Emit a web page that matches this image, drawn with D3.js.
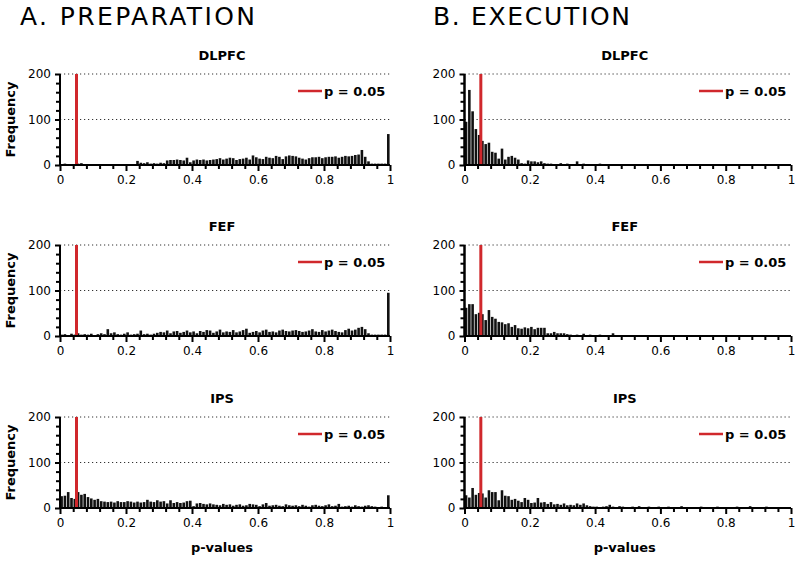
<!DOCTYPE html>
<html><head><meta charset="utf-8">
<script src="https://cdn.jsdelivr.net/npm/d3@7"></script>
<style>body{margin:0;background:#fff}svg{display:block}</style>
</head><body>
<svg id="c" width="800" height="561"></svg>
<script>
// ---- data ----
const phases = ["A. PREPARATION", "B. EXECUTION"];
const regions = ["DLPFC", "FEF", "IPS"];
const xTicks = [0, 0.2, 0.4, 0.6, 0.8, 1];
const xMinorTicks = [0.04,0.08,0.12,0.16,0.24,0.28,0.32,0.36,0.44,0.48,0.52,0.56,0.64,0.68,0.72,0.76,0.84,0.88,0.92,0.96];
const yTicks = [0, 100, 200];
const yMinorTicks = [20, 40, 60, 80, 120, 140, 160, 180];
const gridValues = [100, 200];
const threshold = 0.05;
const legendLabel = "p = 0.05";
const binWidth = 0.01;

const prepDLPFC = [2,3,1,0,1,3,4,2,1,1, 0,2,1,1,0,2,1,2,1,2, 2,1,1,9,5,4,6,3,4,3, 5,4,10,11,11,12,11,10,16,6,
  10,12,11,12,10,11,12,13,15,12, 14,16,15,11,13,14,16,12,21,17, 14,13,18,16,15,20,18,13,19,21,
  20,19,16,14,12,15,17,17,18,15, 17,18,18,19,16,18,20,19,20,22, 23,33,18,8,3,3,3,3,3,68];
const prepFEF = [3,4,2,5,3,6,3,4,3,5, 2,4,6,4,15,6,8,4,3,5, 8,3,4,5,12,4,5,3,5,7, 9,8,12,6,10,11,7,9,12,8,
  10,6,11,9,13,12,7,10,14,8, 10,9,13,8,10,13,16,7,9,11, 8,12,14,9,10,8,12,14,11,10,
  12,13,11,9,10,12,15,10,9,13, 10,12,14,11,9,8,13,16,12,14, 18,20,15,6,3,3,3,3,3,95];
const prepIPS = [26,27,35,22,20,35,29,31,24,21, 18,20,15,14,13,14,12,15,13,13, 15,14,12,14,12,13,18,14,13,17,
  14,15,10,17,11,13,11,12,15,16, 4,10,11,9,8,10,8,7,6,9, 7,8,5,7,8,5,6,9,8,7,
  4,8,11,5,6,7,5,4,8,6, 5,6,4,7,5,3,6,7,5,4, 6,8,4,5,9,3,4,5,3,6, 4,3,5,6,4,3,2,3,2,28];
const execDLPFC = [95,165,118,79,66,53,46,49,29,27, 14,36,12,18,20,16,12,4,3,10, 8,8,6,8,4,3,3,2,2,4,
  2,3,2,1,8,2,3,1,2,2, 1,3,1,2,1,0,1,2,1,1, 1,1,2,1,1,1,1,2,1,1, 1,1,1,2,1,1,1,1,1,1,
  1,2,1,1,1,1,1,1,2,1, 1,1,1,1,1,2,1,1,1,1, 1,1,1,2,1,1,1,1,1,1];
const execFEF = [62,70,70,48,51,48,35,57,42,38, 31,30,26,28,20,24,17,16,19,17, 20,15,18,18,18,6,6,9,6,6,
  6,4,3,2,3,2,5,2,3,2, 2,3,2,1,2,6,2,1,2,1, 1,2,1,1,2,1,1,1,2,1, 1,1,2,1,1,1,1,2,1,1,
  1,1,1,2,1,1,1,1,1,2, 1,1,1,1,2,1,1,1,1,1, 1,2,1,1,1,1,1,1,1,1];
const execIPS = [28,23,44,29,33,32,23,39,35,35, 17,39,27,26,18,20,16,13,22,18, 11,12,22,12,13,9,13,8,9,7,
  10,6,7,6,10,7,10,6,4,3, 3,2,3,4,7,3,2,4,3,2, 2,3,2,4,2,1,3,2,1,3, 2,1,3,2,2,1,4,2,1,2,
  1,2,3,2,1,1,2,3,1,2, 2,1,1,3,2,1,2,4,2,1, 2,1,3,1,2,1,1,2,1,2];

const panelData = [[prepDLPFC, prepFEF, prepIPS], [execDLPFC, execFEF, execIPS]];

// ---- layout ----
const svg = d3.select("#c");
const colX = [[60, 390], [464.5, 791]];
const rowY = [[74, 165], [245, 336], [417, 508]];
const tickFont = "'DejaVu Sans', sans-serif";
const fmt = d3.format("~g");

phases.forEach((ph, c) => {
  svg.append("text").attr("x", c === 0 ? 20 : 433).attr("y", 25)
    .attr("font-family", "'DejaVu Sans', sans-serif").attr("font-size", 25)
    .attr("textLength", c === 0 ? 235 : 197).attr("lengthAdjust", "spacing")
    .attr("fill", "#000").text(ph);
});

phases.forEach((ph, c) => {
  regions.forEach((reg, r) => {
    const vals = panelData[c][r];
    const x = d3.scaleLinear().domain([0, 1]).range(colX[c]);
    const y = d3.scaleLinear().domain([0, 200]).range([rowY[r][1], rowY[r][0]]);
    const g = svg.append("g");

    // grid
    g.selectAll(".grid").data(gridValues).join("line")
      .attr("x1", x(0)).attr("x2", x(1)).attr("y1", d => y(d)).attr("y2", d => y(d))
      .attr("stroke", "#333").attr("stroke-width", 1.2).attr("stroke-dasharray", "1.2,2.8");

    // bars
    const bins = vals.map((v, i) => ({x0: i * binWidth, x1: (i + 1) * binWidth, v}));
    g.selectAll(".bar").data(bins).join("rect")
      .attr("x", d => x(d.x0) + 0.3)
      .attr("width", d => Math.max(0.5, x(d.x1) - x(d.x0) - 0.7))
      .attr("y", d => y(d.v))
      .attr("height", d => y(0) - y(d.v))
      .attr("fill", "#111");

    // threshold line
    g.append("line").attr("x1", x(threshold)).attr("x2", x(threshold))
      .attr("y1", y(0)).attr("y2", y(200))
      .attr("stroke", "#d0282c").attr("stroke-width", 3);

    // axes
    const xAxis = d3.axisBottom(x).tickValues(xTicks).tickSize(6).tickPadding(4).tickFormat(fmt);
    const xAx = g.append("g").attr("transform", `translate(0,${y(0)})`).call(xAxis);
    const xMin = d3.axisBottom(x).tickValues(xMinorTicks).tickSize(4).tickFormat("");
    const xMn = g.append("g").attr("transform", `translate(0,${y(0)})`).call(xMin);
    const yAxis = d3.axisLeft(y).tickValues(yTicks).tickSize(5).tickPadding(4).tickFormat(fmt);
    const yAx = g.append("g").attr("transform", `translate(${x(0)},0)`).call(yAxis);
    const yMin = d3.axisLeft(y).tickValues(yMinorTicks).tickSize(4).tickFormat("");
    const yMn = g.append("g").attr("transform", `translate(${x(0)},0)`).call(yMin);
    [xAx, xMn, yAx, yMn].forEach(a => {
      a.selectAll("path").attr("stroke", "#000").attr("stroke-width", 2);
      a.selectAll("line").attr("stroke", "#000").attr("stroke-width", 2);
      a.selectAll("text").attr("font-family", tickFont).attr("font-size", 12).attr("fill", "#000");
    });
    [xAx, xMn].forEach(a => a.select("path").attr("d", `M${x(0)},0H${x(1)}`));
    [yAx, yMn].forEach(a => a.select("path").attr("d", `M0,${y(0)}V${y(200)}`));

    // panel title
    svg.append("text").attr("x", (x(0) + x(1)) / 2 - 3).attr("y", y(200) - 14)
      .attr("text-anchor", "middle").attr("font-family", tickFont).attr("font-weight", "bold")
      .attr("font-size", 13).text(reg);

    // legend
    const lx = x(1) - 92, ly = y(200) + 17;
    svg.append("line").attr("x1", lx).attr("x2", lx + 24).attr("y1", ly).attr("y2", ly)
      .attr("stroke", "#d0282c").attr("stroke-width", 2.5);
    svg.append("text").attr("x", lx + 26).attr("y", ly + 5).attr("font-family", tickFont)
      .attr("font-weight", "bold").attr("font-size", 13).text(legendLabel);

    if (c === 0) {
      svg.append("text")
        .attr("transform", `translate(15,${(y(0) + y(200)) / 2}) rotate(-90)`)
        .attr("text-anchor", "middle").attr("font-family", tickFont).attr("font-weight", "bold")
        .attr("font-size", 13).text("Frequency");
    }
    if (r === 2) {
      svg.append("text").attr("x", (x(0) + x(1)) / 2 - 3).attr("y", y(0) + 44)
        .attr("text-anchor", "middle").attr("font-family", tickFont).attr("font-weight", "bold")
        .attr("font-size", 13).text("p-values");
    }
  });
});
</script>
</body></html>
